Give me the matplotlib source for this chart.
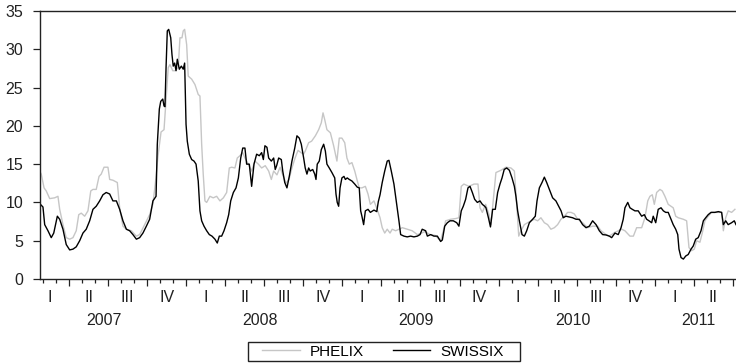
import numpy as np
import matplotlib
matplotlib.use("Agg")
import matplotlib.pyplot as plt
from matplotlib.transforms import blended_transform_factory
from matplotlib.patches import Rectangle

plt.rcParams['font.family'] = ['Liberation Sans', 'DejaVu Sans']

# ---------------- data (decimal years, values) ----------------
t_swissix = [
    2007.069, 2007.083, 2007.094, 2007.115, 2007.136, 2007.152, 2007.175, 2007.190, 2007.211, 2007.232,
    2007.254, 2007.275, 2007.296, 2007.318, 2007.339, 2007.360, 2007.382, 2007.403, 2007.424, 2007.446,
    2007.467, 2007.488, 2007.510, 2007.531, 2007.553, 2007.574, 2007.595, 2007.617, 2007.638, 2007.659,
    2007.681, 2007.702, 2007.723, 2007.745, 2007.766, 2007.787, 2007.807, 2007.815, 2007.828, 2007.837,
    2007.850, 2007.858, 2007.864, 2007.871, 2007.879, 2007.888, 2007.901, 2007.909, 2007.917, 2007.926,
    2007.935, 2007.943, 2007.956, 2007.969, 2007.981, 2007.990, 2007.999, 2008.007, 2008.020, 2008.035,
    2008.050, 2008.063, 2008.077, 2008.088, 2008.099, 2008.114, 2008.131, 2008.148, 2008.165, 2008.184,
    2008.199, 2008.212, 2008.227, 2008.242, 2008.259, 2008.272, 2008.285, 2008.302, 2008.319, 2008.334,
    2008.349, 2008.362, 2008.376, 2008.387, 2008.404, 2008.419, 2008.434, 2008.451, 2008.468, 2008.483,
    2008.494, 2008.504, 2008.517, 2008.528, 2008.545, 2008.560, 2008.570, 2008.579, 2008.592, 2008.609,
    2008.618, 2008.631, 2008.645, 2008.660, 2008.677, 2008.695, 2008.709, 2008.724, 2008.737, 2008.752,
    2008.762, 2008.773, 2008.784, 2008.794, 2008.810, 2008.823, 2008.831, 2008.839, 2008.852, 2008.865,
    2008.880, 2008.891, 2008.901, 2008.916, 2008.933, 2008.951, 2008.959, 2008.967, 2008.976, 2008.985,
    2008.997, 2009.010, 2009.019, 2009.031, 2009.044, 2009.061, 2009.079, 2009.095, 2009.108, 2009.117,
    2009.125, 2009.136, 2009.147, 2009.164, 2009.179, 2009.202, 2009.220, 2009.230, 2009.241, 2009.255,
    2009.271, 2009.287, 2009.298, 2009.313, 2009.330, 2009.348, 2009.362, 2009.373, 2009.394, 2009.415,
    2009.437, 2009.458, 2009.480, 2009.497, 2009.511, 2009.533, 2009.544, 2009.565, 2009.586, 2009.608,
    2009.629, 2009.640, 2009.655, 2009.672, 2009.689, 2009.710, 2009.732, 2009.746, 2009.761, 2009.774,
    2009.789, 2009.804, 2009.817, 2009.832, 2009.847, 2009.864, 2009.881, 2009.896, 2009.911, 2009.919,
    2009.935, 2009.948, 2009.962, 2009.979, 2009.994, 2010.009, 2010.022, 2010.036, 2010.052, 2010.069,
    2010.086, 2010.101, 2010.111, 2010.122, 2010.133, 2010.150, 2010.165, 2010.180, 2010.197, 2010.218,
    2010.235, 2010.246, 2010.261, 2010.278, 2010.293, 2010.308, 2010.325, 2010.346, 2010.367, 2010.385,
    2010.400, 2010.414, 2010.431, 2010.453, 2010.474, 2010.496, 2010.517, 2010.538, 2010.560, 2010.581,
    2010.602, 2010.624, 2010.645, 2010.666, 2010.688, 2010.709, 2010.724, 2010.745, 2010.766, 2010.784,
    2010.798, 2010.809, 2010.827, 2010.841, 2010.856, 2010.873, 2010.894, 2010.916, 2010.933, 2010.948,
    2010.963, 2010.980, 2010.990, 2011.006, 2011.022, 2011.040, 2011.055, 2011.070, 2011.086, 2011.104,
    2011.118, 2011.134, 2011.147, 2011.155, 2011.168, 2011.183, 2011.198, 2011.214, 2011.232, 2011.246,
    2011.262, 2011.278, 2011.296, 2011.311, 2011.326, 2011.342, 2011.360, 2011.385, 2011.407, 2011.428,
    2011.439, 2011.454, 2011.470, 2011.492, 2011.509, 2011.520,
]
v_swissix = [
    9.7, 9.4, 7.1, 6.3, 5.4, 6.0, 8.2, 7.8, 6.5, 4.5,
    3.8, 3.9, 4.2, 5.0, 6.0, 6.5, 7.6, 9.1, 9.5, 10.2,
    11.0, 11.3, 11.1, 10.2, 10.2, 9.1, 7.6, 6.5, 6.3, 5.8,
    5.2, 5.4, 6.0, 6.9, 7.8, 10.2, 10.8, 17.6, 22.2, 23.2,
    23.5, 22.6, 22.5, 27.6, 32.4, 32.6, 31.5, 29.3, 27.8, 28.2,
    27.2, 28.7, 27.4, 27.8, 27.4, 28.2, 20.2, 18.0, 16.3, 15.6,
    15.4, 15.0, 12.8, 8.9, 7.6, 6.9, 6.3, 5.8, 5.6, 5.2,
    4.7, 5.6, 5.6, 6.3, 7.35, 8.4, 10.2, 11.3, 11.9, 13.2,
    15.8, 17.1, 17.1, 15.0, 15.0, 12.1, 15.0, 16.3, 16.1, 16.5,
    15.6, 17.4, 17.2, 15.8, 15.4, 15.8, 14.3, 14.8, 15.8, 15.6,
    14.1, 12.6, 11.9, 13.4, 15.4, 17.1, 18.7, 18.4, 17.6, 15.8,
    14.5, 13.7, 14.5, 14.1, 14.3, 13.7, 13.0, 15.0, 15.4, 16.9,
    17.6, 16.7, 15.0, 14.5, 13.9, 13.2, 11.1, 10.0, 9.5, 11.9,
    13.2, 13.4, 13.0, 13.2, 13.0, 12.8, 12.4, 12.0, 11.9, 8.9,
    8.2, 7.1, 8.9, 9.1, 8.7, 9.0, 8.8, 10.1, 11.0, 12.6,
    14.1, 15.4, 15.5, 14.1, 12.4, 9.75, 7.6, 5.8, 5.6, 5.5,
    5.6, 5.5, 5.6, 5.8, 6.5, 6.3, 5.6, 5.8, 5.6, 5.6,
    4.9, 5.1, 6.9, 7.35, 7.6, 7.6, 7.35, 6.9, 8.9, 9.5,
    10.4, 11.9, 12.1, 11.3, 10.4, 10.0, 10.2, 9.75, 9.5, 9.3,
    8.0, 6.8, 9.1, 9.1, 11.3, 12.4, 13.2, 14.3, 14.5, 14.2,
    13.2, 12.1, 10.8, 8.9, 7.6, 5.8, 5.6, 6.3, 7.35, 7.8,
    8.2, 10.2, 11.9, 12.6, 13.3, 12.6, 11.7, 10.6, 10.2, 9.5,
    8.9, 8.0, 8.2, 8.1, 8.0, 7.8, 7.8, 7.1, 6.7, 6.9,
    7.6, 7.1, 6.3, 5.8, 5.75, 5.6, 5.4, 6.0, 5.8, 6.7,
    7.8, 9.3, 10.0, 9.3, 9.1, 8.9, 8.9, 8.2, 8.4, 7.8,
    7.6, 7.35, 8.2, 7.35, 9.1, 9.3, 8.9, 8.7, 8.7, 7.8,
    7.1, 6.5, 5.8, 3.9, 2.8, 2.6, 3.0, 3.2, 3.9, 4.3,
    5.2, 5.4, 6.3, 7.6, 8.0, 8.4, 8.7, 8.7, 8.8, 8.7,
    7.1, 7.6, 7.1, 7.35, 7.6, 7.1,
]

t_phelix = [
    2007.064, 2007.072, 2007.090, 2007.104, 2007.126, 2007.158, 2007.179, 2007.190, 2007.211, 2007.232,
    2007.254, 2007.275, 2007.296, 2007.312, 2007.328, 2007.350, 2007.371, 2007.389, 2007.403, 2007.424,
    2007.442, 2007.456, 2007.474, 2007.499, 2007.510, 2007.531, 2007.559, 2007.574, 2007.595, 2007.617,
    2007.649, 2007.681, 2007.702, 2007.734, 2007.766, 2007.787, 2007.802, 2007.819, 2007.839, 2007.858,
    2007.875, 2007.885, 2007.896, 2007.914, 2007.928, 2007.949, 2007.960, 2007.973, 2007.981, 2007.990,
    2008.003, 2008.013, 2008.035, 2008.056, 2008.077, 2008.088, 2008.099, 2008.109, 2008.120, 2008.131,
    2008.152, 2008.173, 2008.195, 2008.216, 2008.238, 2008.259, 2008.276, 2008.291, 2008.312, 2008.327,
    2008.344, 2008.362, 2008.376, 2008.398, 2008.419, 2008.440, 2008.462, 2008.483, 2008.506, 2008.528,
    2008.545, 2008.560, 2008.581, 2008.601, 2008.620, 2008.639, 2008.658, 2008.677, 2008.697, 2008.716,
    2008.735, 2008.751, 2008.762, 2008.784, 2008.803, 2008.827, 2008.848, 2008.865, 2008.876, 2008.887,
    2008.901, 2008.923, 2008.944, 2008.965, 2008.980, 2008.997, 2009.015, 2009.029, 2009.044, 2009.061,
    2009.079, 2009.093, 2009.108, 2009.125, 2009.147, 2009.164, 2009.179, 2009.202, 2009.221, 2009.241,
    2009.255, 2009.271, 2009.287, 2009.305, 2009.319, 2009.341, 2009.362, 2009.384, 2009.415, 2009.447,
    2009.480, 2009.497, 2009.529, 2009.561, 2009.593, 2009.629, 2009.655, 2009.661, 2009.693, 2009.727,
    2009.746, 2009.761, 2009.778, 2009.810, 2009.843, 2009.868, 2009.881, 2009.896, 2009.917, 2009.939,
    2009.951, 2009.983, 2010.015, 2010.047, 2010.079, 2010.101, 2010.116, 2010.129, 2010.143, 2010.165,
    2010.186, 2010.207, 2010.229, 2010.250, 2010.271, 2010.293, 2010.314, 2010.335, 2010.357, 2010.378,
    2010.399, 2010.421, 2010.442, 2010.464, 2010.485, 2010.506, 2010.538, 2010.570, 2010.602, 2010.634,
    2010.656, 2010.688, 2010.709, 2010.745, 2010.788, 2010.809, 2010.841, 2010.863, 2010.884, 2010.916,
    2010.937, 2010.955, 2010.969, 2010.984, 2010.997, 2011.012, 2011.033, 2011.048, 2011.065, 2011.086,
    2011.104, 2011.118, 2011.134, 2011.150, 2011.183, 2011.204, 2011.219, 2011.236, 2011.253, 2011.268,
    2011.289, 2011.304, 2011.321, 2011.342, 2011.364, 2011.407, 2011.428, 2011.439, 2011.454, 2011.470,
    2011.492, 2011.513,
]
v_phelix = [
    14.0, 13.7, 11.9, 11.5, 10.5, 10.6, 10.8, 9.1, 7.1, 5.4,
    5.2, 5.4, 6.3, 8.4, 8.6, 8.2, 8.9, 11.5, 11.7, 11.7,
    13.4, 13.7, 14.6, 14.6, 13.0, 12.9, 12.6, 9.3, 6.9, 6.5,
    6.3, 5.6, 5.8, 7.1, 8.4, 9.8, 12.4, 16.0, 19.2, 19.5,
    24.5, 27.6, 28.0, 27.2, 27.2, 27.6, 31.5, 31.5, 32.4, 32.6,
    30.6, 26.5, 26.1, 25.4, 24.1, 23.9, 17.6, 13.7, 10.2, 10.0,
    10.8, 10.6, 10.8, 10.2, 10.6, 11.3, 14.5, 14.6, 14.5, 15.8,
    16.1, 16.5, 15.8, 15.0, 14.1, 15.4, 15.0, 14.5, 14.8, 14.1,
    13.0, 14.1, 13.6, 14.6, 13.5, 12.5, 13.0, 14.5, 15.8, 16.8,
    16.5, 16.3, 16.7, 17.8, 18.0, 18.7, 19.5, 20.4, 21.7, 20.8,
    19.5, 19.1, 17.4, 15.4, 18.4, 18.4, 17.8, 15.8, 15.0, 15.2,
    14.1, 13.0, 11.9, 11.9, 12.1, 11.1, 9.75, 10.2, 9.2, 8.0,
    6.7, 6.0, 6.5, 6.0, 6.5, 6.3, 6.5, 6.7, 6.5, 6.3,
    5.8, 5.9, 6.2, 5.8, 5.7, 5.0, 7.0, 7.6, 7.8, 7.9,
    8.0, 12.1, 12.4, 12.1, 12.4, 12.4, 9.3, 8.7, 9.75, 8.4,
    7.1, 13.9, 14.2, 14.6, 14.5, 14.1, 9.75, 5.6, 6.3, 7.1,
    7.35, 7.6, 7.8, 7.6, 8.0, 7.35, 7.1, 6.5, 6.7, 7.1,
    7.8, 8.2, 8.7, 8.7, 8.5, 7.8, 7.35, 6.7, 6.9, 6.9,
    6.3, 5.8, 5.6, 6.1, 6.5, 6.3, 5.6, 5.6, 6.7, 6.7,
    8.0, 10.2, 10.8, 11.0, 9.75, 11.3, 11.7, 11.5, 10.8, 9.75,
    9.5, 9.3, 8.2, 8.0, 7.8, 7.6, 4.1, 3.7, 3.9, 5.0,
    4.8, 6.0, 7.6, 8.2, 8.7, 8.7, 8.7, 6.3, 8.0, 8.9,
    8.7, 9.1,
]

series_names = ["PHELIX", "SWISSIX"]
quarter_names = ["I", "II", "III", "IV"]
years = [2007, 2008, 2009, 2010, 2011]
y_ticks = [0, 5, 10, 15, 20, 25, 30, 35]

# ---------------- figure ----------------
W, H = 736, 364
FS = 11.5
TXT = "#222222"
fig = plt.figure(figsize=(W / 100, H / 100), dpi=100)
ax = fig.add_axes([40 / W, 1 - 279 / H, 696 / W, 268 / H])

ax.plot(t_phelix, v_phelix, color="#c6c6c6", lw=1.0, label=series_names[0])
ax.plot(t_swissix, v_swissix, color="#000000", lw=1.0, label=series_names[1])

xmin, xmax = 2007.064, 2011.520
ax.set_xlim(xmin, xmax)
ax.set_ylim(0, 35)

for s in ["left", "bottom", "top"]:
    ax.spines[s].set_color(TXT)
    ax.spines[s].set_linewidth(1.0)
ax.spines["right"].set_visible(False)

ax.set_yticks(y_ticks)
ax.tick_params(axis="y", direction="out", length=5, width=0.9, pad=7,
               labelsize=FS, colors=TXT)

q_edges = np.arange(2007.0, 2011.75, 0.25)
q_edges = q_edges[(q_edges > xmin) & (q_edges <= xmax)]
months = np.arange(2007.0, 2011.6, 1 / 12)
months = [m for m in months if xmin < m <= xmax and abs(m * 4 - round(m * 4)) > 1e-6]
ax.set_xticks(q_edges)
ax.set_xticks(months, minor=True)
ax.set_xticklabels([])
ax.tick_params(axis="x", which="major", direction="out", length=5, width=0.9, colors=TXT)
ax.tick_params(axis="x", which="minor", direction="out", length=2.8, width=0.9, colors=TXT)

trans = blended_transform_factory(ax.transData, ax.transAxes)
for yr in years:
    for qi, qn in enumerate(quarter_names):
        c = yr + (qi + 0.5) / 4
        if xmin < c < xmax:
            ax.text(c, -0.0698, qn, transform=trans, ha="center", va="center",
                    fontsize=FS, color=TXT)
    if yr + 1 <= xmax:
        yc = yr + 0.474
    else:
        yc = (yr + xmax) / 2 + 0.017
    ax.text(yc, -0.1556, str(yr), transform=trans, ha="center", va="center",
            fontsize=FS, color=TXT)

# legend box (frame drawn as a figure rectangle)
fig.patches.append(Rectangle((248 / W, 1 - 361 / H), 272 / W, 19 / H,
                             transform=fig.transFigure, fill=False,
                             edgecolor=TXT, lw=1.0))
fig.legend(loc="center", bbox_to_anchor=(383 / W, 1 - 351.5 / H), ncol=2,
           fontsize=11, frameon=False, handlelength=2.45, handletextpad=0.65,
           columnspacing=1.9, borderpad=0.0, borderaxespad=0)

fig.savefig("out.png", dpi=100)
